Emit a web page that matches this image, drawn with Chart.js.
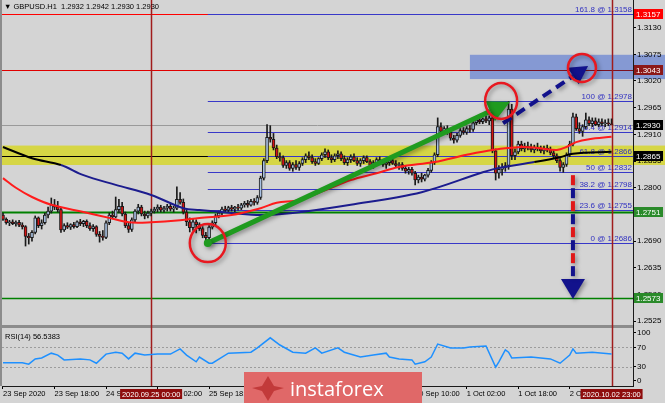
<!DOCTYPE html>
<html>
<head>
<meta charset="utf-8">
<script src="https://cdn.jsdelivr.net/npm/chart.js@4.4.1/dist/chart.umd.min.js"></script>
<style>
  html, body { margin: 0; padding: 0; background: #d4d4d4; }
  canvas { display: block; }
</style>
</head>
<body>
<canvas id="chart" width="665" height="403"></canvas>
<script>
// H1 bars, 23 Sep 2020 02:00 .. 2 Oct 2020 23:00
const opens = [1.2744,1.2735,1.2728,1.2730,1.2726,1.2729,1.2723,1.2720,1.2700,1.2697,
  1.2708,1.2738,1.2722,1.2728,1.2744,1.2752,1.2765,1.2760,1.2755,1.2713,
  1.2722,1.2719,1.2724,1.2720,1.2730,1.2726,1.2731,1.2722,1.2716,1.2720,
  1.2704,1.2700,1.2698,1.2728,1.2744,1.2740,1.2755,1.2762,1.2746,1.2722,
  1.2714,1.2734,1.2752,1.2760,1.2746,1.2742,1.2748,1.2752,1.2756,1.2760,
  1.2754,1.2758,1.2762,1.2756,1.2758,1.2776,1.2770,1.2750,1.2730,1.2718,
  1.2730,1.2724,1.2716,1.2702,1.2697,1.2719,1.2728,1.2742,1.2748,1.2756,
  1.2754,1.2759,1.2756,1.2760,1.2758,1.2765,1.2768,1.2764,1.2772,1.2770,
  1.2780,1.2820,1.2856,1.2904,1.2900,1.2882,1.2864,1.2862,1.2846,1.2852,
  1.2840,1.2848,1.2842,1.2850,1.2858,1.2866,1.2862,1.2854,1.2850,1.2860,
  1.2868,1.2874,1.2862,1.2858,1.2866,1.2870,1.2860,1.2852,1.2858,1.2864,
  1.2856,1.2850,1.2856,1.2862,1.2854,1.2846,1.2852,1.2858,1.2854,1.2848,
  1.2852,1.2856,1.2850,1.2846,1.2848,1.2840,1.2834,1.2838,1.2830,1.2816,
  1.2822,1.2818,1.2826,1.2836,1.2852,1.2868,1.2926,1.2916,1.2922,1.2914,
  1.2902,1.2898,1.2908,1.2918,1.2914,1.2922,1.2920,1.2934,1.2940,1.2936,
  1.2942,1.2938,1.2944,1.2876,1.2830,1.2838,1.2842,1.2846,1.2962,1.2866,
  1.2874,1.2890,1.2880,1.2886,1.2882,1.2878,1.2884,1.2880,1.2876,1.2882,
  1.2878,1.2872,1.2866,1.2856,1.2842,1.2848,1.2868,1.2890,1.2946,1.2922,
  1.2916,1.2926,1.2940,1.2932,1.2938,1.2930,1.2936,1.2932,1.2934,1.2932];
const highs = [1.2748,1.2738,1.2733,1.2734,1.2732,1.2733,1.2728,1.2722,1.2706,1.2712,
  1.2742,1.2740,1.2734,1.2748,1.2760,1.2779,1.2776,1.2772,1.2758,1.2726,
  1.2728,1.2726,1.2729,1.2732,1.2735,1.2733,1.2734,1.2728,1.2724,1.2722,
  1.2710,1.2712,1.2732,1.2748,1.2752,1.2781,1.2776,1.2770,1.2750,1.2728,
  1.2738,1.2755,1.2766,1.2764,1.2752,1.2752,1.2756,1.2760,1.2765,1.2764,
  1.2762,1.2766,1.2766,1.2762,1.2802,1.2790,1.2777,1.2756,1.2738,1.2735,
  1.2734,1.2728,1.2720,1.2708,1.2722,1.2732,1.2746,1.2752,1.2760,1.2762,
  1.2762,1.2764,1.2762,1.2766,1.2768,1.2772,1.2774,1.2776,1.2778,1.2784,
  1.2824,1.2860,1.2930,1.2928,1.2912,1.2888,1.2872,1.2866,1.2856,1.2856,
  1.2852,1.2856,1.2854,1.2862,1.2870,1.2874,1.2868,1.2860,1.2862,1.2872,
  1.2880,1.2878,1.2868,1.2870,1.2876,1.2874,1.2866,1.2862,1.2868,1.2870,
  1.2862,1.2860,1.2866,1.2866,1.2858,1.2856,1.2862,1.2864,1.2858,1.2856,
  1.2860,1.2862,1.2856,1.2852,1.2852,1.2846,1.2842,1.2842,1.2834,1.2826,
  1.2830,1.2828,1.2840,1.2856,1.2872,1.2944,1.2934,1.2926,1.2928,1.2918,
  1.2908,1.2912,1.2922,1.2924,1.2926,1.2928,1.2938,1.2944,1.2946,1.2944,
  1.2948,1.2948,1.2950,1.2880,1.2846,1.2850,1.2852,1.2978,1.2972,1.2880,
  1.2896,1.2896,1.2892,1.2894,1.2890,1.2888,1.2892,1.2886,1.2886,1.2888,
  1.2884,1.2878,1.2870,1.2860,1.2852,1.2872,1.2896,1.2954,1.2952,1.2934,
  1.2930,1.2954,1.2946,1.2944,1.2944,1.2942,1.2942,1.2940,1.2942,1.2942];
const lows = [1.2733,1.2725,1.2722,1.2724,1.2721,1.2720,1.2715,1.2680,1.2684,1.2690,
  1.2705,1.2718,1.2715,1.2725,1.2738,1.2748,1.2755,1.2750,1.2708,1.2710,
  1.2716,1.2714,1.2717,1.2718,1.2722,1.2720,1.2718,1.2712,1.2710,1.2700,
  1.2688,1.2692,1.2695,1.2724,1.2736,1.2738,1.2748,1.2742,1.2718,1.2708,
  1.2710,1.2730,1.2746,1.2742,1.2736,1.2738,1.2742,1.2748,1.2750,1.2750,
  1.2750,1.2752,1.2752,1.2750,1.2755,1.2766,1.2746,1.2722,1.2709,1.2712,
  1.2707,1.2712,1.2697,1.2686,1.2692,1.2715,1.2724,1.2738,1.2744,1.2750,
  1.2750,1.2752,1.2751,1.2754,1.2755,1.2760,1.2760,1.2762,1.2764,1.2766,
  1.2776,1.2816,1.2852,1.2894,1.2878,1.2860,1.2855,1.2842,1.2840,1.2836,
  1.2834,1.2838,1.2836,1.2846,1.2852,1.2858,1.2850,1.2846,1.2848,1.2856,
  1.2862,1.2858,1.2852,1.2854,1.2860,1.2856,1.2848,1.2846,1.2852,1.2854,
  1.2846,1.2844,1.2850,1.2852,1.2842,1.2840,1.2848,1.2850,1.2844,1.2840,
  1.2846,1.2848,1.2842,1.2838,1.2836,1.2830,1.2828,1.2826,1.2806,1.2810,
  1.2812,1.2814,1.2822,1.2832,1.2848,1.2864,1.2912,1.2910,1.2910,1.2898,
  1.2892,1.2894,1.2904,1.2910,1.2910,1.2914,1.2916,1.2930,1.2932,1.2932,
  1.2934,1.2930,1.2872,1.2816,1.2820,1.2826,1.2834,1.2838,1.2858,1.2858,
  1.2870,1.2876,1.2874,1.2878,1.2874,1.2872,1.2876,1.2872,1.2870,1.2874,
  1.2868,1.2862,1.2852,1.2834,1.2832,1.2844,1.2864,1.2886,1.2918,1.2912,
  1.2906,1.2922,1.2928,1.2926,1.2928,1.2926,1.2928,1.2926,1.2928,1.2930];
const closes = [1.2735,1.2728,1.2730,1.2726,1.2729,1.2723,1.2720,1.2700,1.2697,1.2708,
  1.2738,1.2722,1.2728,1.2744,1.2752,1.2765,1.2760,1.2755,1.2713,1.2722,
  1.2719,1.2724,1.2720,1.2730,1.2726,1.2731,1.2722,1.2716,1.2720,1.2704,
  1.2700,1.2698,1.2728,1.2744,1.2740,1.2755,1.2762,1.2746,1.2722,1.2714,
  1.2734,1.2752,1.2760,1.2746,1.2742,1.2748,1.2752,1.2756,1.2760,1.2754,
  1.2758,1.2762,1.2756,1.2758,1.2776,1.2770,1.2750,1.2730,1.2718,1.2730,
  1.2724,1.2716,1.2702,1.2697,1.2719,1.2728,1.2742,1.2748,1.2756,1.2754,
  1.2759,1.2756,1.2760,1.2758,1.2765,1.2768,1.2764,1.2772,1.2770,1.2780,
  1.2820,1.2856,1.2904,1.2900,1.2882,1.2864,1.2862,1.2846,1.2852,1.2840,
  1.2848,1.2842,1.2850,1.2858,1.2866,1.2862,1.2854,1.2850,1.2860,1.2868,
  1.2874,1.2862,1.2858,1.2866,1.2870,1.2860,1.2852,1.2858,1.2864,1.2856,
  1.2850,1.2856,1.2862,1.2854,1.2846,1.2852,1.2858,1.2854,1.2848,1.2852,
  1.2856,1.2850,1.2846,1.2848,1.2840,1.2834,1.2838,1.2830,1.2816,1.2822,
  1.2818,1.2826,1.2836,1.2852,1.2868,1.2926,1.2916,1.2922,1.2914,1.2902,
  1.2898,1.2908,1.2918,1.2914,1.2922,1.2920,1.2934,1.2940,1.2936,1.2942,
  1.2938,1.2944,1.2876,1.2830,1.2838,1.2842,1.2846,1.2962,1.2866,1.2874,
  1.2890,1.2880,1.2886,1.2882,1.2878,1.2884,1.2880,1.2876,1.2882,1.2878,
  1.2872,1.2866,1.2856,1.2842,1.2848,1.2868,1.2890,1.2946,1.2922,1.2916,
  1.2926,1.2940,1.2932,1.2938,1.2930,1.2936,1.2932,1.2934,1.2932,1.2930];

// moving averages (bar index, value)
const maRedBars = [0, 4, 9, 15, 25, 33, 39, 46, 55, 61, 71, 80, 85, 92, 100, 108, 116, 123, 134, 144, 152, 161, 166, 172, 175, 178, 182, 189];
const maRedVals = [1.2820, 1.2800, 1.2781, 1.2765, 1.2750, 1.2738, 1.2729, 1.2729, 1.2733, 1.2738, 1.2744, 1.2758, 1.2769, 1.2775, 1.2795, 1.2816, 1.2830, 1.2843, 1.2853, 1.2868, 1.2878, 1.2884, 1.2882, 1.2878, 1.2884, 1.2894, 1.2900, 1.2905];
const maBlueBars = [0, 9, 18, 25, 35, 46, 56, 61, 71, 80, 90, 108, 130, 149, 154, 165, 173, 177, 189];
const maBlueVals = [1.2884, 1.2861, 1.2847, 1.2826, 1.2806, 1.2785, 1.2758, 1.2754, 1.2748, 1.2744, 1.2748, 1.2765, 1.2791, 1.2832, 1.2841, 1.2853, 1.2863, 1.2870, 1.2874];

// RSI(14)
const rsiBars = [0, 6, 8, 10, 12, 15, 17, 19, 24, 27, 29, 32, 35, 37, 39, 41, 44, 48, 52, 55, 57, 60, 61, 64, 65, 70, 77, 79, 83, 86, 90, 94, 97, 99, 104, 106, 111, 115, 119, 120, 123, 127, 128, 131, 133, 135, 139, 143, 145, 150, 153, 154, 156, 157, 158, 164, 170, 173, 176, 177, 178, 183, 189];
const rsiVals = [38, 38, 35, 46, 48, 58, 54, 44, 46, 44, 37, 56, 60, 58, 46, 58, 54, 56, 56, 67, 54, 40, 50, 37, 37, 58, 60, 69, 90, 75, 60, 58, 69, 58, 69, 60, 50, 54, 58, 50, 46, 44, 35, 40, 50, 77, 69, 69, 71, 73, 29, 40, 65, 60, 48, 50, 46, 37, 54, 67, 58, 60, 56.5];
const rsiLevels = [70, 30];

// axes
const timeTickBars = [0, 16, 32, 48, 64, 80, 96, 112, 128, 144, 160, 176];
const timeTickLabels = ['23 Sep 2020', '23 Sep 18:00', '24 Sep 10:00', '25 Sep 02:00', '25 Sep 18:00', '28 Sep 10:00',
  '29 Sep 02:00', '29 Sep 18:00', '30 Sep 10:00', '1 Oct 02:00', '1 Oct 18:00', '2 Oct 10:00'];
const priceTicks = [1.2525, 1.2580, 1.2635, 1.2690, 1.2745, 1.2800, 1.2855, 1.2910, 1.2965, 1.3020, 1.3075, 1.3130];
const rsiTicks = [0, 30, 70, 100];

// drawn objects
const fibLevels = ['161.8', '100', '76.4', '61.8', '50', '38.2', '23.6', '0'];
const fibPrices = [1.3158, 1.2978, 1.2914, 1.2866, 1.2832, 1.2798, 1.2755, 1.2686];
const fibStartBar = 63.6;
const hLevels = [1.3157, 1.3043, 1.2930, 1.2865, 1.2751, 1.2573];
const yellowZone = [1.2847, 1.2887];
const blueZone = [1.3024, 1.3074];
const blueZoneStartBar = 145;
const cursorBars = [46, 189];
const cursorLabels = ['2020.09.25 00:00', '2020.10.02 23:00'];
const greenArrow = [[63.6, 1.2686], [157.5, 1.2977]];
const blueArrow = [[155.3, 1.2933], [181.7, 1.3051]];
const downArrow = [[177, 1.2826], [177, 1.2571]];
const circles = [[63.6, 1.2686], [154.7, 1.2979], [179.8, 1.3047]];

const title = '▼ GBPUSD.H1  1.2932 1.2942 1.2930 1.2930';
const rsiTitle = 'RSI(14) 56.5383';

const FONT = '"Liberation Sans", "DejaVu Sans", sans-serif';
const BULL = '#a9c1e2';
const BEAR = '#d41414';

function arrowHead(c, x0, y0, x1, y1, len, half) {
    const a = Math.atan2(y1 - y0, x1 - x0);
    const bx = x1 - len * Math.cos(a), by = y1 - len * Math.sin(a);
    c.beginPath();
    c.moveTo(x1, y1);
    c.lineTo(bx + half * Math.sin(a), by - half * Math.cos(a));
    c.lineTo(bx - half * Math.sin(a), by + half * Math.cos(a));
    c.closePath();
    c.fill();
    return [bx, by];
}

function shadow(c, on) {
    c.shadowColor = on ? 'rgba(0,0,0,0.35)' : 'transparent';
    c.shadowBlur = on ? 4 : 0;
    c.shadowOffsetX = on ? 2 : 0;
    c.shadowOffsetY = on ? 2 : 0;
}

// no label padding, fixed box sizes
function fixBox(size) {
    return s => {
        if (s.isHorizontal()) s.height = size; else s.width = size;
        s.paddingLeft = s.paddingRight = s.paddingTop = s.paddingBottom = 0;
    };
}

const decor = {
    id: 'decor',
    beforeDraw(chart) {
        const { ctx: c, scales: { x, y } } = chart;
        const W = chart.width;
        c.save();
        c.fillStyle = '#d4d4d4';
        c.fillRect(0, 0, W, chart.height);
        // blue target zone
        const bx = x.getPixelForValue(blueZoneStartBar);
        const bt = y.getPixelForValue(blueZone[1]), bb = y.getPixelForValue(blueZone[0]);
        c.fillStyle = '#8599d3';
        c.fillRect(bx, bt, W - bx, bb - bt);
        // yellow pivot zone
        const yt = y.getPixelForValue(yellowZone[1]), yb = y.getPixelForValue(yellowZone[0]);
        c.fillStyle = '#d6d645';
        c.fillRect(0, yt, W, yb - yt);
        c.restore();
    },
    beforeDatasetsDraw(chart) {
        const { ctx: c, chartArea: a, scales: { x, y, rsi } } = chart;
        const py = v => Math.round(y.getPixelForValue(v)) + 0.5;
        c.save();
        // panel frame
        c.fillStyle = '#8c8c8c';
        c.fillRect(0, 0, 2, a.bottom);
        c.fillRect(0, rsi.top - 1, a.right, 3);
        // rsi levels
        c.strokeStyle = '#9c9c9c';
        c.lineWidth = 1;
        c.setLineDash([2, 2]);
        rsiLevels.forEach(v => {
            const ly = Math.round(rsi.getPixelForValue(v)) + 0.5;
            c.beginPath(); c.moveTo(a.left, ly); c.lineTo(a.right, ly); c.stroke();
        });
        c.setLineDash([]);

        // horizontal levels
        const bx = x.getPixelForValue(blueZoneStartBar);
        const lineStyles = [['#ff0000', 1], ['#e00000', 1], ['#9a9a9a', 1], ['#000000', 1.2], ['#008000', 2], ['#008000', 1.5]];
        hLevels.forEach((v, k) => {
            c.strokeStyle = lineStyles[k][0];
            c.lineWidth = lineStyles[k][1];
            const ly = py(v);
            c.beginPath(); c.moveTo(a.left, ly); c.lineTo(k === 1 ? bx : a.right, ly); c.stroke();
            if (k === 1) {
                c.strokeStyle = '#7c1020';
                c.beginPath(); c.moveTo(bx, ly); c.lineTo(a.right, ly); c.stroke();
            }
        });

        // fibonacci retracement
        const fx = x.getPixelForValue(fibStartBar);
        c.strokeStyle = '#3838c8';
        c.fillStyle = '#3030c0';
        c.lineWidth = 1;
        c.font = '8px ' + FONT;
        c.textAlign = 'right';
        c.textBaseline = 'bottom';
        fibPrices.forEach((v, k) => {
            const ly = py(v);
            c.beginPath(); c.moveTo(fx, ly); c.lineTo(a.right, ly); c.stroke();
            c.fillText(fibLevels[k] + ' @ ' + v.toFixed(4), a.right - 1, ly - 1);
        });

        // cursor lines
        c.strokeStyle = '#a01c1c';
        c.lineWidth = 1.5;
        cursorBars.forEach(b => {
            const lx = Math.round(x.getPixelForValue(b)) + 0.5;
            c.beginPath(); c.moveTo(lx, a.top); c.lineTo(lx, a.bottom); c.stroke();
        });
        c.restore();
    },
    afterDatasetsDraw(chart) {
        const { ctx: c, scales: { x, y } } = chart;
        const P = p => [x.getPixelForValue(p[0]), y.getPixelForValue(p[1])];
        c.save();
        shadow(c, true);

        // green trend arrow
        let [x0, y0] = P(greenArrow[0]), [x1, y1] = P(greenArrow[1]);
        c.fillStyle = '#1f9b1f';
        c.strokeStyle = '#1f9b1f';
        const gb = arrowHead(c, x0, y0, x1, y1, 22, 11);
        c.lineWidth = 5;
        c.beginPath(); c.moveTo(x0, y0); c.lineTo(gb[0], gb[1]); c.stroke();
        c.beginPath(); c.arc(x0, y0, 4, 0, Math.PI * 2); c.fill();

        // blue dashed arrow
        [x0, y0] = P(blueArrow[0]); [x1, y1] = P(blueArrow[1]);
        c.fillStyle = '#12128c';
        c.strokeStyle = '#12128c';
        const bb = arrowHead(c, x0, y0, x1, y1, 18, 10);
        c.lineWidth = 4;
        c.setLineDash([10, 6]);
        c.beginPath(); c.moveTo(x0, y0); c.lineTo(bb[0], bb[1]); c.stroke();
        c.setLineDash([]);

        // red / blue dashed down arrow
        [x0, y0] = P(downArrow[0]); [x1, y1] = P(downArrow[1]);
        c.fillStyle = '#12128c';
        const db = arrowHead(c, x0, y0, x1, y1, 20, 12);
        c.lineWidth = 4;
        let k = 0;
        for (let yy = y0; yy < db[1]; yy += 13, k++) {
            c.strokeStyle = k % 2 ? '#12128c' : '#e01818';
            c.beginPath(); c.moveTo(x0, yy); c.lineTo(x0, Math.min(yy + 10, db[1])); c.stroke();
        }

        // circles
        c.strokeStyle = '#e81820';
        c.lineWidth = 2.5;
        const radii = [[18, 19], [16, 18], [14, 14]];
        circles.forEach((p, i) => {
            const [cx, cy] = P(p);
            c.beginPath(); c.ellipse(cx, cy, radii[i][0], radii[i][1], 0, 0, Math.PI * 2); c.stroke();
        });
        c.restore();
    },
    afterDraw(chart) {
        const { ctx: c, chartArea: a, scales: { x, y } } = chart;
        c.save();
        c.font = '7.5px ' + FONT;
        c.fillStyle = '#000';
        c.textBaseline = 'middle';
        c.textAlign = 'left';
        c.fillText(title, 4, 7);
        c.fillText(rsiTitle, 5, 337);

        // price tags on the right axis
        const tagStyles = [['#ff0000', '#fff'], ['#8c1818', '#fff'], ['#000', '#fff'], ['#000', '#fff'], ['#2a8a2a', '#fff'], ['#2a8a2a', '#fff']];
        c.font = '8px ' + FONT;
        hLevels.forEach((v, k) => {
            const ty = Math.round(y.getPixelForValue(v));
            c.fillStyle = tagStyles[k][0];
            c.fillRect(a.right + 1, ty - 5, 29, 10);
            c.fillStyle = tagStyles[k][1];
            c.fillText(v.toFixed(4), a.right + 3, ty + 0.5);
        });

        // cursor date tags
        c.font = '7.5px ' + FONT;
        c.textAlign = 'center';
        cursorBars.forEach((b, k) => {
            const tx = x.getPixelForValue(b);
            c.fillStyle = '#8e0c0c';
            c.fillRect(tx - 31, a.bottom + 3, 62, 10);
            c.fillStyle = '#fff';
            c.fillText(cursorLabels[k], tx, a.bottom + 8.5);
        });

        // watermark
        c.fillStyle = '#e06868';
        c.fillRect(244, 372, 178, 31);
        c.fillStyle = '#c23a3a';
        c.beginPath();
        c.moveTo(268, 376); c.lineTo(274, 386); c.lineTo(284, 388); c.lineTo(274, 391);
        c.lineTo(268, 401); c.lineTo(262, 391); c.lineTo(252, 388); c.lineTo(262, 386);
        c.closePath(); c.fill();
        c.fillStyle = '#fff';
        c.font = '20px "Open Sans", ' + FONT;
        c.textAlign = 'left';
        c.textBaseline = 'alphabetic';
        c.fillText('instaforex', 290, 396);
        c.restore();
    }
};

document.addEventListener('DOMContentLoaded', () => {
    const bars = closes.map((_, i) => i);
    const inZone = v => v >= yellowZone[0] && v <= yellowZone[1];
    new Chart(document.getElementById('chart').getContext('2d'), {
        type: 'bar',
        data: {
            datasets: [
                {
                    type: 'line', label: 'MA red', yAxisID: 'y', order: 0,
                    data: maRedBars.map((b, i) => ({ x: b, y: maRedVals[i] })),
                    borderColor: '#ff1c1c', borderWidth: 2, pointRadius: 0, tension: 0.35
                },
                {
                    type: 'line', label: 'MA blue', yAxisID: 'y', order: 0,
                    data: maBlueBars.map((b, i) => ({ x: b, y: maBlueVals[i] })),
                    borderColor: '#1c1c8e', borderWidth: 2, pointRadius: 0, tension: 0.35,
                    segment: {
                        borderColor: s => inZone(s.p0.parsed.y) && inZone(s.p1.parsed.y) ? '#000' : '#1c1c8e'
                    }
                },
                {
                    type: 'line', label: 'RSI', yAxisID: 'rsi', order: 0,
                    data: rsiBars.map((b, i) => ({ x: b, y: rsiVals[i] })),
                    borderColor: '#1e90ff', borderWidth: 1.5, pointRadius: 0, tension: 0
                },
                {
                    label: 'body', yAxisID: 'y', order: 1, grouped: false,
                    data: bars.map(i => ({ x: i, y: [opens[i], closes[i]] })),
                    backgroundColor: bars.map(i => closes[i] >= opens[i] ? BULL : BEAR),
                    borderColor: '#1a1a1a', borderWidth: 1, borderSkipped: false, barThickness: 3
                },
                {
                    label: 'wick', yAxisID: 'y', order: 2, grouped: false,
                    data: bars.map(i => ({ x: i, y: [lows[i], highs[i]] })),
                    backgroundColor: '#1a1a1a', barThickness: 1
                }
            ]
        },
        options: {
            responsive: false,
            devicePixelRatio: 1,
            animation: false,
            events: [],
            layout: { padding: { left: 2, right: 0, top: 0, bottom: 0 } },
            plugins: { legend: { display: false }, tooltip: { enabled: false } },
            scales: {
                x: {
                    type: 'linear', min: -0.31, max: 195.65, offset: false,
                    afterBuildTicks: s => { s.ticks = timeTickBars.map(v => ({ value: v })); },
                    afterFit: fixBox(17),
                    ticks: {
                        callback: v => timeTickLabels[timeTickBars.indexOf(v)],
                        align: 'start', autoSkip: false, maxRotation: 0, minRotation: 0,
                        padding: 0, color: '#000', font: { family: FONT, size: 7.5 }
                    },
                    grid: { drawOnChartArea: false, offset: false, tickLength: 3, color: '#000' },
                    border: { color: '#1a1a1a' }
                },
                y: {
                    position: 'right', stack: 'right', stackWeight: 326, min: 1.251526, max: 1.318687,
                    afterBuildTicks: s => { s.ticks = priceTicks.map(v => ({ value: v })); },
                    afterFit: fixBox(32),
                    ticks: { callback: v => v.toFixed(4), autoSkip: false, padding: 1, color: '#000', font: { family: FONT, size: 8 } },
                    grid: { drawOnChartArea: false, tickLength: 3, color: '#000' },
                    border: { color: '#1a1a1a' }
                },
                rsi: {
                    position: 'right', stack: 'right', stackWeight: 60, min: -10.42, max: 114.58,
                    afterBuildTicks: s => { s.ticks = rsiTicks.map(v => ({ value: v })); },
                    afterFit: fixBox(32),
                    ticks: { callback: v => String(v), autoSkip: false, padding: 1, color: '#000', font: { family: FONT, size: 8 } },
                    grid: { drawOnChartArea: false, tickLength: 3, color: '#000' },
                    border: { color: '#1a1a1a' }
                }
            }
        },
        plugins: [decor]
    });
});
</script>
</body>
</html>
